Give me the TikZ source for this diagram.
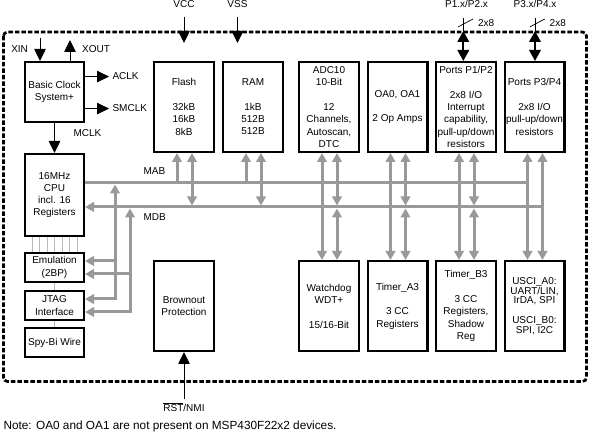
\documentclass[tikz,border=0pt]{standalone}
\usepackage{fontspec}
\setmainfont{Liberation Sans}
\usetikzlibrary{arrows.meta, calc}
\definecolor{busgray}{RGB}{153,153,153}
\definecolor{linkgray}{RGB}{185,185,185}

\begin{document}
\begin{tikzpicture}[x=1pt, y=-1pt, font=\fontsize{10}{12.3}\selectfont]
\tikzstyle{block} = [draw, line width=2.4pt, align=center, inner sep=0pt, minimum width=59.6pt, minimum height=89.6pt]
\tikzstyle{side} = [block, minimum width=58.6pt]
\tikzstyle{bus} = [busgray, line width=3pt, >={Triangle[length=9pt, width=9.5pt]}]
\tikzstyle{sig} = [line width=0.8pt, -{Triangle[length=12pt, width=11.5pt]}]
\tikzstyle{io} = [line width=2pt, {Triangle[length=11pt, width=11.5pt]}-{Triangle[length=11pt, width=11.5pt]}]
\tikzstyle{link} = [linkgray, line width=0.8pt]
\tikzstyle{frame} = [line width=2.7pt, dash pattern=on 4.5pt off 2pt, rounded corners=4pt]
\useasboundingbox (0,0) rectangle (590,435);
\draw[frame] (3.5,32) rectangle (586.5,381.5);
% left column
\node[side, minimum height=59.6pt] (clk) at (54.5,92) {Basic Clock\\System+};
\node[side, minimum height=81.6pt] (cpu) at (54.5,195) {16MHz\\CPU\\incl. 16\\Registers};
\node[side, minimum height=28.6pt] (emu) at (54.5,267.5) {Emulation\\(2BP)};
\node[side, minimum height=28.6pt] (jtag) at (54.5,305.5) {JTAG\\Interface};
\node[side, minimum height=28.6pt] (spy) at (54.5,342.5) {Spy-Bi Wire};
% top row
\node[block] (flash) at (184,107) {Flash\\[12.3pt]32kB\\16kB\\8kB};
\node[block] (ram) at (253,107) {RAM\\[12.3pt]1kB\\512B\\512B};
\node[block] (adc) at (329,107) {ADC10\\10-Bit\\[12.3pt]12\\Channels,\\Autoscan,\\DTC};
\node[block] (oa) at (397.5,107) {OA0, OA1\\[12.3pt]2 Op Amps};
\node[block] (pa) at (466,107) {Ports P1/P2\\[12.3pt]2x8 I/O\\Interrupt\\capability,\\pull-up/down\\resistors};
\node[block] (pb) at (534.5,107) {Ports P3/P4\\[12.3pt]2x8 I/O\\pull-up/down\\resistors};
% bottom row
\node[block] (bor) at (184,306) {Brownout\\Protection};
\node[block] (wdt) at (329,306) {Watchdog\\WDT+\\[12.3pt]15/16-Bit};
\node[block] (tima) at (397.5,306) {Timer\_A3\\[12.3pt]3 CC\\Registers};
\node[block] (timb) at (466,306) {Timer\_B3\\[12.3pt]3 CC\\Registers,\\Shadow\\Reg};
\node[block, font=\fontsize{10}{9.8}\selectfont] (usci) at (534.5,306) {USCI\_A0:\\UART/LIN,\\IrDA, SPI\\[9.8pt]USCI\_B0:\\SPI, I2C};
% buses
\coordinate (mab) at (0,183);
\coordinate (mdb) at (0,207);
\foreach \n in {flash, ram, adc, oa, pa, pb} {
    \coordinate (\n-a) at ([xshift=-7pt]\n.south);
    \coordinate (\n-d) at ([xshift=8pt]\n.south);
}
\node[anchor=base west] (lmab) at (140,175) {MAB};
\node[anchor=base west] (lmdb) at (140,221) {MDB};
\draw[bus] (cpu.east |- mab) -- (pb-a |- mab);
\draw[bus, <-] (cpu.east |- mdb) -- (pb-d |- mdb);
\foreach \n in {flash, ram} {
    \draw[bus, ->, shorten <=-1.5pt] (\n-a |- mab) -- (\n-a);
    \draw[bus, <->, shorten >=1.5pt] (\n-d) -- (\n-d |- mdb);
}
\foreach \n/\m in {adc/wdt, oa/tima, pa/timb, pb/usci}
    \draw[bus, <->] (\n-a) -- (\n-a |- \m.north);
\foreach \n/\m in {adc/wdt, oa/tima, pa/timb} {
    \draw[bus, <->, shorten >=1.5pt] (\n-d) -- (\n-d |- mdb);
    \draw[bus, <->, shorten <=1.5pt] (\n-d |- mdb) -- (\n-d |- \m.north);
}
\draw[bus, <->] (pb-d) -- (pb-d |- usci.north);
% debug access
\coordinate (dbg-a) at (115,0);
\coordinate (dbg-d) at (130,0);
\coordinate (emu-a) at ([yshift=6.5pt]emu.east);
\coordinate (emu-d) at ([yshift=-6.5pt]emu.east);
\coordinate (jtag-a) at ([yshift=6.5pt]jtag.east);
\coordinate (jtag-d) at ([yshift=-6.5pt]jtag.east);
\draw[bus, <->, shorten >=1.5pt] (jtag-a) -| (dbg-a |- mab);
\draw[bus, ->] (dbg-a |- emu-a) -- (emu-a);
\draw[bus, <->, shorten >=1.5pt] (jtag-d) -| (dbg-d |- mdb);
\draw[bus, ->] (dbg-d |- emu-d) -- (emu-d);
\foreach \d in {8,15.5,...,53}
    \draw[link] ([xshift=\d pt]cpu.south west) -- ([xshift=\d pt]emu.north west);
\draw[link] (emu) -- (jtag);
\draw[link] (jtag) -- (spy);
% clock signals
\node[anchor=base east] (xin) at (31.5,53) {XIN};
\node[anchor=base west] (xout) at (78.7,53) {XOUT};
\coordinate (xin-c) at (40,38);
\coordinate (xout-c) at (70,40);
\draw[sig] (xin-c) -- (xin-c |- clk.north);
\draw[sig] (xout-c |- clk.north) -- (xout-c);
\node[anchor=base west] (aclk) at (109,80) {ACLK};
\node[anchor=base west] (smclk) at (109,112) {SMCLK};
\node[anchor=base west] (mclk) at (70,137) {MCLK};
\draw[sig] (aclk.west -| clk.east) -- (aclk.west);
\draw[sig] (smclk.west -| clk.east) -- (smclk.west);
\draw[sig] (clk) -- (cpu);
% supply
\node[anchor=base] (vcc) at (184,8) {VCC};
\node[anchor=base] (vss) at (237.5,8) {VSS};
\coordinate (vcc-in) at (184,43);
\coordinate (vss-in) at (237.5,43);
\draw[sig, shorten <=5pt] (vcc) -- (vcc-in);
\draw[sig, shorten <=5pt] (vss) -- (vss-in);
% ports
\node[anchor=base] (p12) at (466.5,8) {P1.x/P2.x};
\node[anchor=base] (p34) at (535,8) {P3.x/P4.x};
\coordinate (pa-io) at (463.3,31);
\coordinate (pb-io) at (535,31);
\foreach \p/\b/\l/\w in {pa-io/pa/p12/w12, pb-io/pb/p34/w34} {
    \draw[io] (\p) -- (\p |- \b.north);
    \draw[line width=0.7pt] (\p) -- ([yshift=13pt]\p);
    \draw[line width=0.7pt] ([shift={(-5.3pt,4pt)}]\p) -- ([shift={(9.7pt,12pt)}]\p);
    \node[anchor=base west, inner sep=0pt] (\w) at ([shift={(14.5pt,4pt)}]\p) {2x8};
}
% reset
\node[anchor=base] (rst) at (184,412) {\ensuremath{\overline{\mbox{RST}}}/NMI};
\draw[sig] (rst) -- (bor);
\node[anchor=base west, font=\fontsize{11.8}{14}\selectfont] (note) at (0,430) {Note: OA0 and OA1 are not present on MSP430F22x2 devices.};
\end{tikzpicture}
\end{document}
